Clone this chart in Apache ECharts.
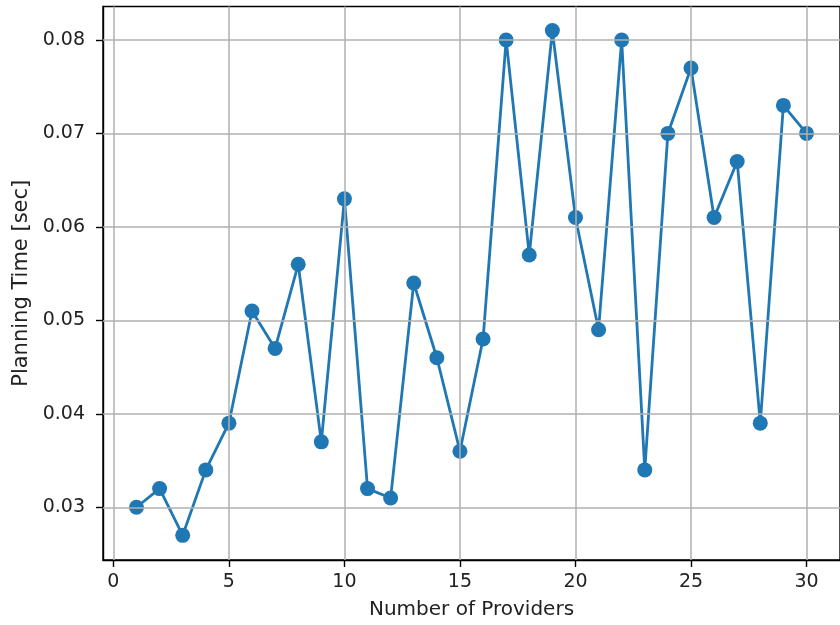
<!DOCTYPE html>
<html><head><meta charset="utf-8">
<script src="https://cdn.jsdelivr.net/npm/echarts@6/dist/echarts.min.js"></script>
<style>html,body{margin:0;padding:0;background:#fff}#c{width:840px;height:625px}</style>
</head><body><div id="c"></div>
<script>
const providers = [1,2,3,4,5,6,7,8,9,10,11,12,13,14,15,16,17,18,19,20,21,22,23,24,25,26,27,28,29,30];
const planningTime = [0.030,0.032,0.027,0.034,0.039,0.051,0.047,0.056,0.037,0.063,0.032,0.031,0.054,0.046,0.036,0.048,0.080,0.057,0.081,0.061,0.049,0.080,0.034,0.070,0.077,0.061,0.067,0.039,0.073,0.070];
const xTicks = [0,5,10,15,20,25,30];
const yTicks = [0.03,0.04,0.05,0.06,0.07,0.08];

const font = 'DejaVu Sans';
const gridStyle = {color:'#b0b0b0', width:1.5, type:'solid'};
const chart = echarts.init(document.getElementById('c'), null, {renderer:'canvas'});
chart.setOption({
  animation:false,
  grid:{left:103, top:6.5, bottom:65, right:-8, show:true, borderColor:'#000', borderWidth:1.4, backgroundColor:'rgba(0,0,0,0)'},
  xAxis:{type:'value', min:-0.45, max:31.45,
    name:'Number of Providers', nameLocation:'middle', nameGap:40,
    nameTextStyle:{fontFamily:font, fontSize:20, color:'#222'},
    axisLine:{show:true, onZero:false, lineStyle:{color:'#000', width:1.4}},
    axisTick:{show:true, length:7, customValues: xTicks, lineStyle:{color:'#000', width:1.4}},
    axisLabel:{fontFamily:font, fontSize:19, color:'#222', margin:13,
      customValues: xTicks, formatter:v=>String(v)},
    splitLine:{show:false}},
  yAxis:{type:'value', min:0.02436, max:0.08358,
    name:'Planning Time [sec]', nameLocation:'middle', nameGap:71,
    nameTextStyle:{fontFamily:font, fontSize:21, color:'#222'},
    axisLine:{show:true, onZero:false, lineStyle:{color:'#000', width:1.4}},
    axisTick:{show:true, length:7, customValues: yTicks, lineStyle:{color:'#000', width:1.4}},
    axisLabel:{fontFamily:font, fontSize:19, color:'#222', margin:18,
      customValues: yTicks, formatter:v=>v.toFixed(2)},
    splitLine:{show:false}},
  series:[
    {type:'line', silent:true, symbol:'none', data:[], z:1,
     markLine:{silent:true, symbol:'none', label:{show:false}, animation:false,
       lineStyle:gridStyle,
       data: yTicks.map(v=>({yAxis:v})).concat(xTicks.map(v=>({xAxis:v})))}},
    {type:'line', data: providers.map((p,i)=>[p, planningTime[i]]), z:3,
     symbol:'circle', symbolSize:15,
     itemStyle:{color:'#1f77b4'}, lineStyle:{color:'#1f77b4', width:2.8}}
  ]
});
</script></body></html>
